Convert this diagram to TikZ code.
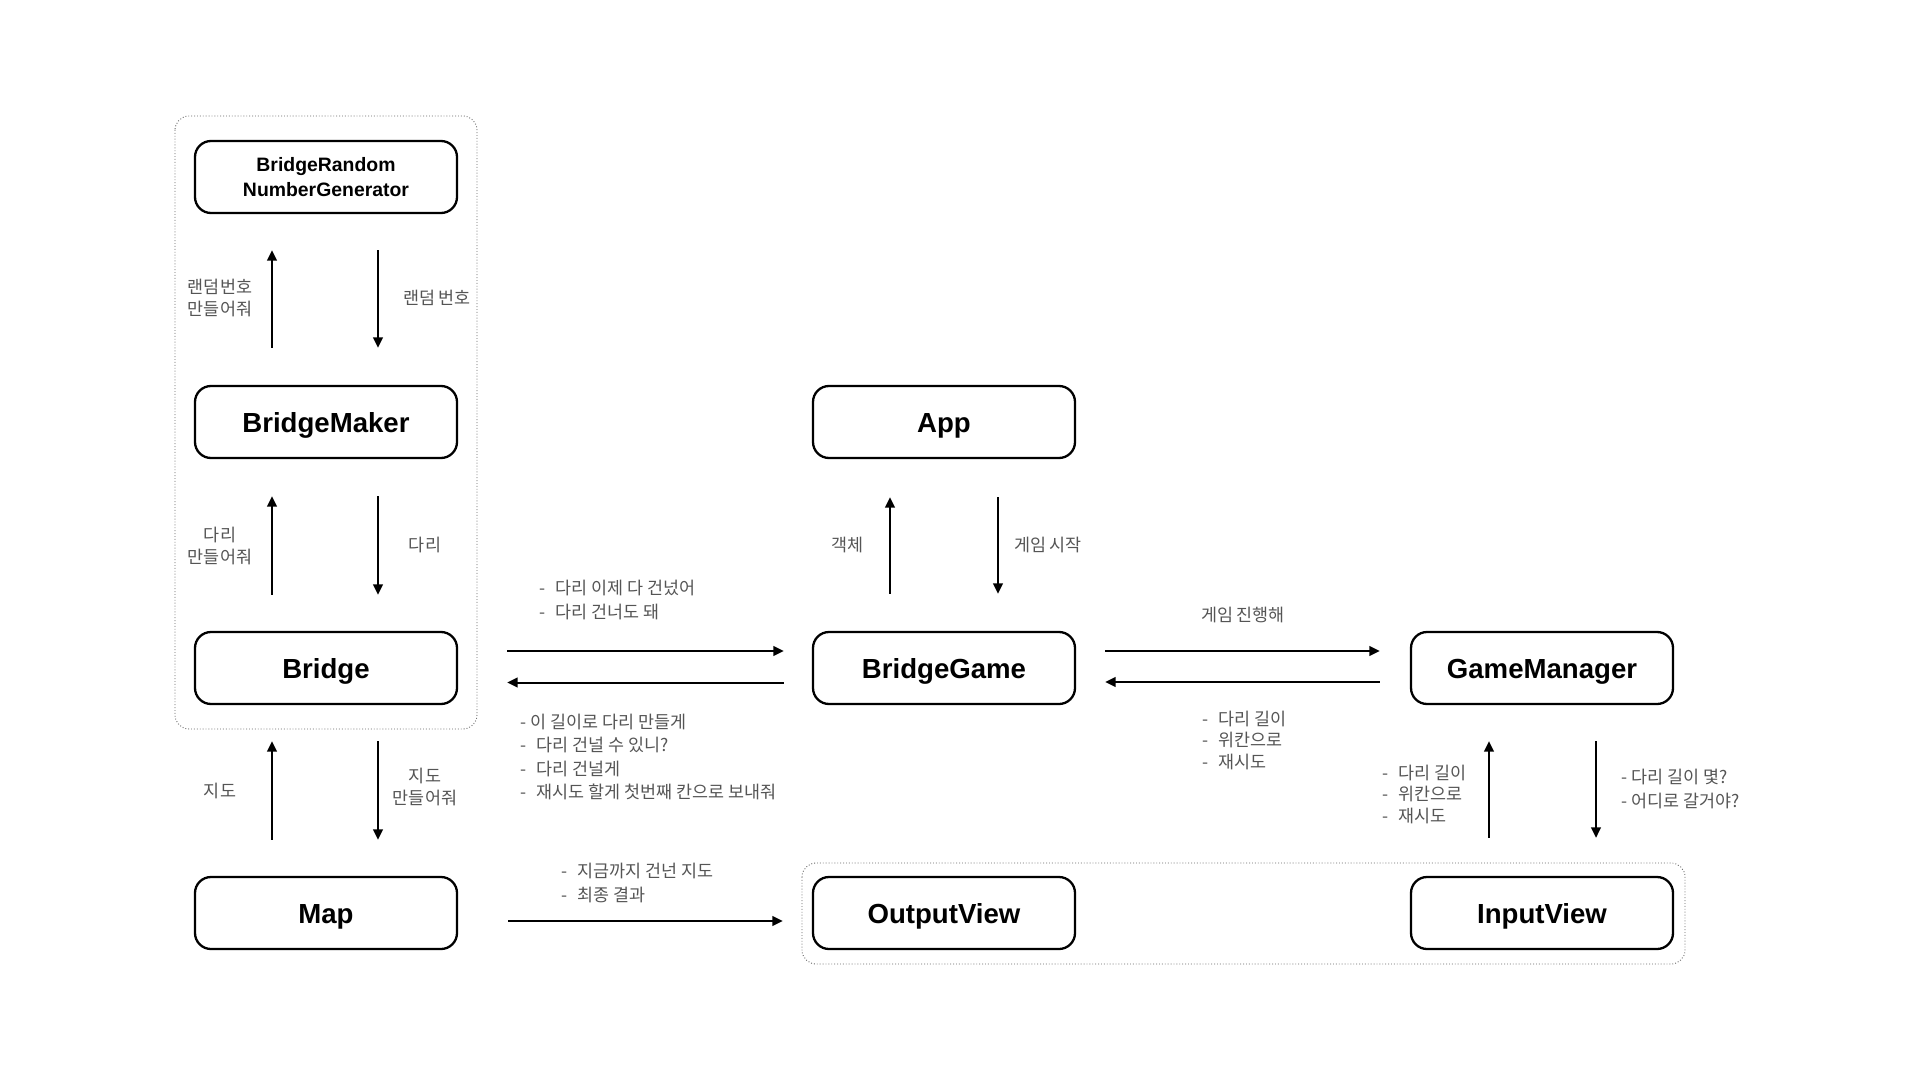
\documentclass[tikz,border=0pt]{standalone}
\usepackage{fontspec}
\setmainfont{Liberation Sans}
\newfontfamily\kr{Noto Sans CJK KR}
\usetikzlibrary{arrows.meta}
\definecolor{labelgray}{HTML}{555555}
\definecolor{groupgray}{HTML}{666666}
\newcommand{\dl}{\makebox[8pt][l]{-}}
\tikzset{
  box/.style={draw=black, line width=1.15pt, rounded corners=8pt, minimum width=131pt, minimum height=36pt, inner sep=0pt, text height=10.7pt, text depth=0pt, font=\bfseries\fontsize{13.8pt}{16pt}\selectfont},
  smallbox/.style={draw=black, line width=1.15pt, rounded corners=8pt, minimum width=131pt, minimum height=36pt, inner sep=0pt, font=\bfseries\fontsize{9.7pt}{12.8pt}\selectfont, align=center},
  group/.style={draw=groupgray, line width=0.45pt, densely dotted, rounded corners=7pt},
  arr/.style={line width=1pt, -{Triangle[length=5.2pt,width=4.8pt]}},
  lbl/.style={text=labelgray, font=\kr\fontsize{8.7pt}{10.75pt}\selectfont, align=center, inner sep=0pt},
  lst/.style={text=labelgray, font=\kr\fontsize{8.7pt}{10.75pt}\selectfont, align=left, inner sep=0pt, anchor=west},
  lstw/.style={lst, font=\kr\fontsize{8.7pt}{11.75pt}\selectfont}
}
\begin{document}
\begin{tikzpicture}[x=0.5pt, y=-0.5pt]
\useasboundingbox[fill=white] (0,0) rectangle (1920,1080);

% groups
\draw[group] (175,116) rectangle (477,729);
\draw[group] (802,863) rectangle (1685,964);

% boxes
\node[smallbox] (brng) at (326,177) {BridgeRandom\\NumberGenerator};
\node[box] (maker) at (326,422) {BridgeMaker};
\node[box] (bridge) at (326,668) {Bridge};
\node[box] (map) at (326,913) {Map};
\node[box] (app) at (944,422) {App};
\node[box] (game) at (944,668) {BridgeGame};
\node[box] (manager) at (1542,668) {GameManager};
\node[box] (output) at (944,913) {OutputView};
\node[box] (input) at (1542,913) {InputView};

% vertical arrows
\draw[arr, shorten <=18.5pt, shorten >=18pt] ([xshift=-27pt]maker.north) -- ([xshift=-27pt]brng.south);
\draw[arr, shorten <=18pt, shorten >=18.5pt] ([xshift=26pt]brng.south) -- ([xshift=26pt]maker.north);
\draw[arr, shorten <=18pt, shorten >=18.5pt] ([xshift=-27pt]bridge.north) -- ([xshift=-27pt]maker.south);
\draw[arr, shorten <=18.5pt, shorten >=18pt] ([xshift=26pt]maker.south) -- ([xshift=26pt]bridge.north);
\draw[arr, shorten <=18pt, shorten >=18pt] ([xshift=-27pt]map.north) -- ([xshift=-27pt]bridge.south);
\draw[arr, shorten <=18pt, shorten >=18pt] ([xshift=26pt]bridge.south) -- ([xshift=26pt]map.north);
\draw[arr, shorten <=18.5pt, shorten >=19pt] ([xshift=-27pt]game.north) -- ([xshift=-27pt]app.south);
\draw[arr, shorten <=19pt, shorten >=18.5pt] ([xshift=27pt]app.south) -- ([xshift=27pt]game.north);
\draw[arr, shorten <=19pt, shorten >=18pt] ([xshift=-26.5pt]input.north) -- ([xshift=-26.5pt]manager.south);
\draw[arr, shorten <=18pt, shorten >=19pt] ([xshift=27pt]manager.south) -- ([xshift=27pt]input.north);

% horizontal arrows
\draw[arr, shorten <=24.5pt, shorten >=14pt] ([yshift=8.5pt]bridge.east) -- ([yshift=8.5pt]game.west);
\draw[arr, shorten <=14pt, shorten >=24.5pt] ([yshift=-7.25pt]game.west) -- ([yshift=-7.25pt]bridge.east);
\draw[arr, shorten <=14.5pt, shorten >=15pt] ([yshift=8.5pt]game.east) -- ([yshift=8.5pt]manager.west);
\draw[arr, shorten <=15pt, shorten >=14.5pt] ([yshift=-7pt]manager.west) -- ([yshift=-7pt]game.east);
\draw[arr, shorten <=25pt, shorten >=14.5pt] ([yshift=-4pt]map.east) -- ([yshift=-4pt]output.west);

% labels
\node[lbl] (l1) at (220,298) {랜덤번호\\만들어줘};
\node[lbl] (l2) at (437,298) {랜덤 번호};
\node[lbl] (l3) at (220,546) {다리\\만들어줘};
\node[lbl] (l4) at (425,545) {다리};
\node[lbl] (l5) at (220,791) {지도};
\node[lbl] (l6) at (425,787) {지도\\만들어줘};
\node[lbl] (l7) at (847,545) {객체};
\node[lbl] (l8) at (1048,545) {게임 시작};
\node[lbl] (l9) at (1243,615) {게임 진행해};

\node[lstw] (l10) at (539,600) {\dl 다리 이제 다 건넜어\\\dl 다리 건너도 돼};
\node[lstw] (l11) at (520,757) {- 이 길이로 다리 만들게\\\dl 다리 건널 수 있니?\\\dl 다리 건널게\\\dl 재시도 할게 첫번째 칸으로 보내줘};
\node[lst] (l12) at (1202,740) {\dl 다리 길이\\\dl 위칸으로\\\dl 재시도};
\node[lst] (l13) at (1382,794) {\dl 다리 길이\\\dl 위칸으로\\\dl 재시도};
\node[lstw] (l14) at (1621,789) {- 다리 길이 몇?\\- 어디로 갈거야?};
\node[lstw] (l15) at (561,883) {\dl 지금까지 건넌 지도\\\dl 최종 결과};
\end{tikzpicture}
\end{document}
